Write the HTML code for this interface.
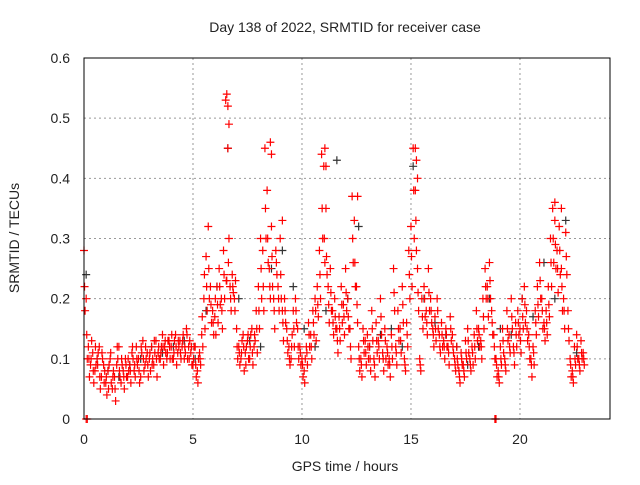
<!DOCTYPE html>
<html><head><meta charset="utf-8"><style>
body{margin:0;background:#fff;}
svg text{font-family:"Liberation Sans",sans-serif;fill:#222;}
</style></head><body>
<svg id="chart" width="640" height="480">
<text x="345" y="32" font-size="14" text-anchor="middle">Day 138 of 2022, SRMTID for receiver case</text>
<text x="345" y="471" font-size="14" text-anchor="middle">GPS time / hours</text>
<text transform="translate(19,238) rotate(-90)" font-size="14" text-anchor="middle">SRMTID / TECUs</text>
<g id="grid"></g><g id="marks"></g>
<rect x="84" y="58" width="526" height="361" fill="none" stroke="#000" stroke-width="1"/>
<g id="ticks"></g>
</svg>
<script>
const xTicks=[0,5,10,15,20];
const yTicks=[0,0.1,0.2,0.3,0.4,0.5,0.6];
const yTickLabels=["0","0.1","0.2","0.3","0.4","0.5","0.6"];
const redA=[.28,.2,.12,.09,.11,.08,.1,.12,.07,.09,.06,.08,.1,.05,.07,.09,.12,.06,.08,.1,.07,.09,.11,.08,.12,.1,.07,.13,.09,.11,.1,.12,.09,.13,.11,.1,.14,.12,.1,.13,.12,.1,.14,.11,.13,.12,.1,.15,.12,.11,.09,.12,.08,.11,.14,.2,.27,.32,.22,.18,.17,.22,.25,.2,.28,.53,.45,.22,.24,.2,.15,.12,.1,.14,.11,.13,.1,.15,.12,.18,.22,.3,.28,.45,.38,.25,.32,.2,.28,.22,.3,.18,.2,.15,.12,.1,.18,.2,.15,.12,.1,.08,.12,.16,.14,.18,.2,.22,.28,.44,.42,.35,.22,.25,.18,.2,.15,.17,.22,.19,.25,.2,.15,.37,.33,.22,.12,.1,.15,.13,.14,.12,.18,.1,.16,.13,.2,.11,.15,.12,.1,.14,.25,.12,.18,.15,.22,.1,.16,.28,.32,.45,.38,.25,.1,.2,.22,.18,.25,.2,.15,.17,.2,.14,.16,.13,.15,.12,.17,.14,.1,.12,.08,.11,.09,.13,.15,.1,.12,.14,.18,.15,.13,.2,.25,.22,.26,.18,.14,.1,.08,.12,.15,.1,.18,.14,.2,.12,.16,.18,.15,.2,.22,.18,.14,.1,.12,.18,.22,.26,.2,.16,.18,.22,.3,.35,.33,.28,.32,.25,.2,.31,.18,.1,.08,.12,.14,.1,.13,.11];
const redB=[.18,.1,.07,.13,.06,.09,.11,.05,.1,.08,.04,.09,.06,.08,.03,.1,.07,.09,.05,.07,.08,.06,.1,.07,.09,.06,.11,.08,.1,.07,.08,.1,.11,.07,.1,.12,.09,.11,.13,.1,.1,.13,.09,.12,.1,.14,.11,.1,.13,.09,.12,.07,.1,.09,.12,.15,.18,.2,.16,.14,.14,.16,.19,.15,.2,.23,.3,.18,.21,.23,.1,.09,.13,.08,.12,.1,.14,.09,.13,.11,.15,.2,.18,.3,.26,.2,.22,.15,.24,.18,.2,.13,.16,.11,.09,.14,.12,.16,.1,.09,.07,.1,.09,.12,.1,.14,.13,.17,.2,.3,.26,.24,.16,.18,.14,.15,.11,.13,.16,.14,.18,.15,.1,.26,.22,.16,.08,.07,.11,.09,.1,.08,.13,.07,.11,.1,.14,.08,.1,.09,.07,.1,.18,.09,.13,.11,.16,.08,.12,.2,.22,.3,.28,.18,.08,.15,.17,.14,.18,.16,.12,.13,.15,.11,.12,.1,.12,.09,.13,.11,.08,.09,.06,.09,.07,.1,.11,.08,.09,.1,.13,.12,.1,.15,.2,.17,.2,.14,.1,.07,.06,.09,.11,.08,.13,.11,.15,.09,.12,.14,.11,.15,.16,.13,.1,.07,.09,.14,.17,.2,.15,.13,.14,.17,.22,.26,.25,.21,.24,.18,.15,.24,.13,.07,.06,.09,.1,.08,.1,.09];
const redC=[.22,.14,.1,.1,.08,.12,.09,.07,.11,.06,.07,.05,.11,.07,.05,.12,.08,.1,.07,.09,.1,.08,.12,.09,.1,.08,.12,.1,.12,.09,.11,.09,.13,.1,.12,.11,.12,.13,.11,.12,.14,.11,.12,.13,.11,.13,.12,.14,.1,.12,.1,.09,.06,.1,.17,.24,.22,.25,.19,.16,.2,.19,.22,.18,.24,.23,.26,.2,.22,.18,.12,.11,.11,.12,.09,.14,.12,.11,.14,.15,.18,.25,.22,.35,.3,.22,.27,.18,.26,.2,.24,.16,.18,.13,.1,.12,.15,.18,.12,.11,.09,.06,.11,.14,.12,.16,.18,.19,.24,.35,.3,.27,.19,.21,.16,.17,.13,.15,.19,.17,.21,.17,.12,.3,.26,.19,.1,.09,.13,.11,.12,.1,.15,.09,.13,.12,.17,.1,.13,.11,.09,.12,.21,.11,.15,.13,.19,.09,.14,.24,.27,.38,.33,.21,.09,.17,.2,.16,.21,.18,.14,.15,.18,.12,.14,.12,.14,.11,.15,.12,.09,.1,.07,.1,.08,.11,.13,.09,.11,.12,.15,.14,.12,.17,.22,.2,.23,.16,.12,.09,.07,.1,.13,.09,.15,.12,.17,.11,.14,.16,.13,.17,.19,.15,.12,.09,.11,.16,.19,.23,.18,.15,.16,.19,.26,.3,.29,.25,.28,.22,.18,.27,.15,.09,.07,.1,.12,.09,.11,.1];
const black=[.24,.1,.08,.07,.09,.1,.12,.11,.12,.13,.1,.18,.22,.45,.2,.13,.12,.25,.28,.22,.15,.12,.18,.43,.2,.32,.12,.14,.15,.12,.42,.2,.16,.14,.12,.09,.12,.2,.15,.14,.2,.17,.26,.2,.33,.11];
const spikeT=[6.55,6.6,6.65,8.55,8.6,9.1,11.05,11.1,12.55,15.2,15.25,15.3,21.6,21.9];
const spikeV=[.54,.52,.49,.46,.44,.33,.45,.42,.37,.45,.43,.4,.36,.35];
const zeroT=[0.1,0.15,18.85,18.9];
const X0=0,X1=24.13,Y0=0,Y1=0.6,L=84,R=610,T=58,B=419;
const sx=v=>L+(v-X0)/(X1-X0)*(R-L), sy=v=>B-(v-Y0)/(Y1-Y0)*(B-T);
const NS='http://www.w3.org/2000/svg';
const grid=document.getElementById('grid'),ticks=document.getElementById('ticks'),marks=document.getElementById('marks');
function mk(tag,at,par){const e=document.createElementNS(NS,tag);for(const k in at)e.setAttribute(k,at[k]);par.appendChild(e);return e;}
xTicks.forEach(t=>{const x=sx(t);
 if(t>0){const g=mk('line',{x1:x,x2:x,y1:T,y2:B,stroke:'#999','stroke-dasharray':'2,3'},grid);
 
 }
 const l=mk('text',{x:x,y:444,'font-size':14,'text-anchor':'middle'},ticks);l.textContent=t;
 
 });
yTicks.forEach((t,i)=>{const y=sy(t);
 if(t>0&&t<0.6){const g=mk('line',{x1:L,x2:R,y1:y,y2:y,stroke:'#999','stroke-dasharray':'2,3'},grid);
 
 }
 const l=mk('text',{x:70,y:y+5,'font-size':14,'text-anchor':'end'},ticks);l.textContent=yTickLabels[i];
 
 });
function plus(t,v,c,name){const x=sx(t),y=sy(v);
 const p=mk('path',{d:`M${x-4},${y}h8M${x},${y-4}v8`,stroke:c,'stroke-width':1.2,fill:'none'},marks);
 
 }
black.forEach((v,i)=>plus(i*0.5+0.1,v,'#333','black-point'));
redA.forEach((v,i)=>plus(i*0.1,v,'#f00','red-point'));
redB.forEach((v,i)=>plus(i*0.1+0.05,v,'#f00','red-point'));
redC.forEach((v,i)=>plus(i*0.1+0.025,v,'#f00','red-point'));
spikeT.forEach((t,i)=>plus(t,spikeV[i],'#f00','red-spike-point'));
zeroT.forEach(t=>plus(t,0,'#f00','red-zero-point'));
</script>
</body></html>
